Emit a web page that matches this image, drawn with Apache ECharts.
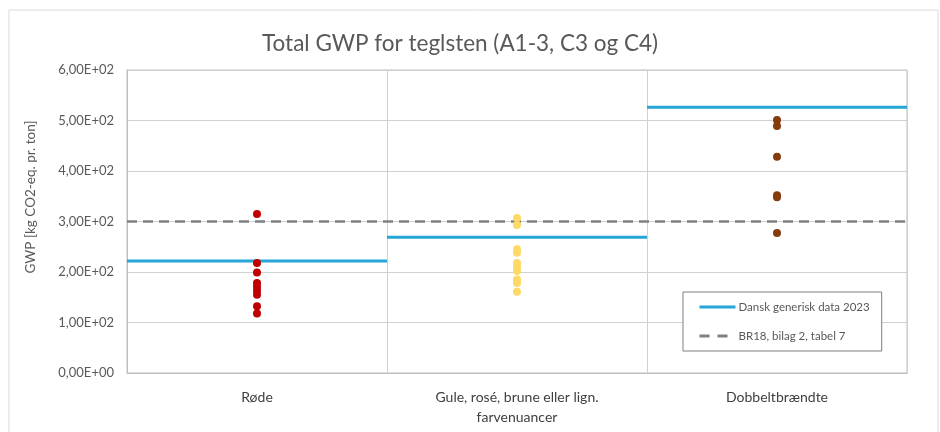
<!DOCTYPE html>
<html>
<head>
<meta charset="utf-8">
<script src="https://cdn.jsdelivr.net/npm/echarts@6/dist/echarts.min.js"></script>
<style>
html,body{margin:0;padding:0;background:#fff;}
#chart{width:940px;height:432px;}
</style>
</head>
<body>
<div id="chart"></div>
<script>
const categories = ['Røde', 'Gule, rosé, brune eller lign.\nfarvenuancer', 'Dobbeltbrændte'];
const redValues = [315, 218, 199, 178, 171, 163, 155, 132, 118];
const yellowValues = [307, 293, 245, 238, 218, 210, 202, 185, 178, 161];
const brownValues = [501, 489, 428, 352, 348, 277];
const danishGeneric = [222, 269, 526];
const br18Value = 300;
const yTicks = [0, 100, 200, 300, 400, 500, 600];
const seriesNames = ['Dansk generisk data 2023', 'BR18, bilag 2, tabel 7'];

function sci(v) {
  if (v === 0) return '0,00E+00';
  const e = Math.floor(Math.log10(Math.abs(v)));
  const m = v / Math.pow(10, e);
  return m.toFixed(2).replace('.', ',') + 'E+' + String(e).padStart(2, '0');
}

const blueData = [];
danishGeneric.forEach((v, i) => {
  blueData.push([i, v], [i + 1, v], '-');
});

const font = 'Lato, "Open Sans", sans-serif';
const chart = echarts.init(document.getElementById('chart'), null, {renderer: 'canvas'});
chart.setOption({
  animation: false,
  backgroundColor: '#fff',
  textStyle: {fontFamily: font, color: '#595959'},
  title: {
    text: 'Total GWP for teglsten (A1-3, C3 og C4)',
    left: 455, top: 27, textAlign: 'center',
    textStyle: {fontFamily: font, fontSize: 22.5, fontWeight: 'normal', color: '#595959'}
  },
  graphic: [
    {type: 'rect', shape: {x: 9, y: 10, width: 929, height: 440}, style: {fill: 'none', stroke: '#d9d9d9', lineWidth: 1}, silent: true, z: -1},
    {type: 'text', x: 31, y: 197, rotation: Math.PI / 2,
     style: {text: 'GWP [kg CO2-eq. pr. ton]', fontFamily: font, fontSize: 13.5, fill: '#595959', align: 'center', verticalAlign: 'middle'}}
  ],
  legend: {
    data: [
      {name: seriesNames[0], lineStyle: {width: 3}},
      {name: seriesNames[1], lineStyle: {width: 3, type: [10, 8]}}
    ],
    orient: 'vertical',
    left: 683, top: 292,
    padding: [9, 12, 9, 15],
    itemGap: 17,
    itemWidth: 36, itemHeight: 12,
    backgroundColor: '#fff',
    borderColor: '#7f7f7f', borderWidth: 1,
    itemStyle: {color: 'rgba(0,0,0,0)', borderWidth: 0, opacity: 0},
    textStyle: {fontFamily: font, fontSize: 11.5, color: '#595959', padding: [0, 0, 0, -2]},
    z: 10
  },
  grid: {left: 127, right: 33, top: 70, bottom: 59, show: true, borderColor: '#bfbfbf', borderWidth: 1},
  xAxis: [
    {
      type: 'category', data: categories, boundaryGap: true,
      axisLine: {show: true, lineStyle: {color: '#bfbfbf'}},
      axisTick: {show: false},
      splitLine: {show: true, lineStyle: {color: '#d0d0d0'}},
      axisLabel: {fontFamily: font, fontSize: 14, color: '#404040', margin: 14, lineHeight: 20}
    },
    {type: 'value', min: 0, max: 3, show: false}
  ],
  yAxis: {
    type: 'value', min: yTicks[0], max: yTicks[yTicks.length - 1], interval: 100,
    axisLine: {show: true, lineStyle: {color: '#bfbfbf'}},
    axisTick: {show: false},
    splitLine: {lineStyle: {color: '#d0d0d0'}},
    axisLabel: {fontFamily: font, fontSize: 13, color: '#595959', margin: 13, formatter: sci}
  },
  series: [
    {name: seriesNames[0], type: 'line', xAxisIndex: 1, data: blueData, symbol: 'none', connectNulls: false,
     lineStyle: {color: '#25A6D6', width: 3}, itemStyle: {color: '#25A6D6'}, z: 3},
    {name: seriesNames[1], type: 'line', xAxisIndex: 1, data: [[0, br18Value], [3, br18Value]], symbol: 'none',
     lineStyle: {color: '#808080', width: 2.5, type: [10, 6]}, itemStyle: {color: '#808080'}, z: 3},
    {name: 'Røde', type: 'scatter', xAxisIndex: 0, data: redValues.map(v => [0, v]), symbolSize: 8,
     itemStyle: {color: '#C00000', opacity: 1}, z: 5},
    {name: 'Gule', type: 'scatter', xAxisIndex: 0, data: yellowValues.map(v => [1, v]), symbolSize: 8,
     itemStyle: {color: '#FFD966', opacity: 1}, z: 5},
    {name: 'Dobbeltbrændte', type: 'scatter', xAxisIndex: 0, data: brownValues.map(v => [2, v]), symbolSize: 8,
     itemStyle: {color: '#843C0C', opacity: 1}, z: 5}
  ]
});
</script>
</body>
</html>
